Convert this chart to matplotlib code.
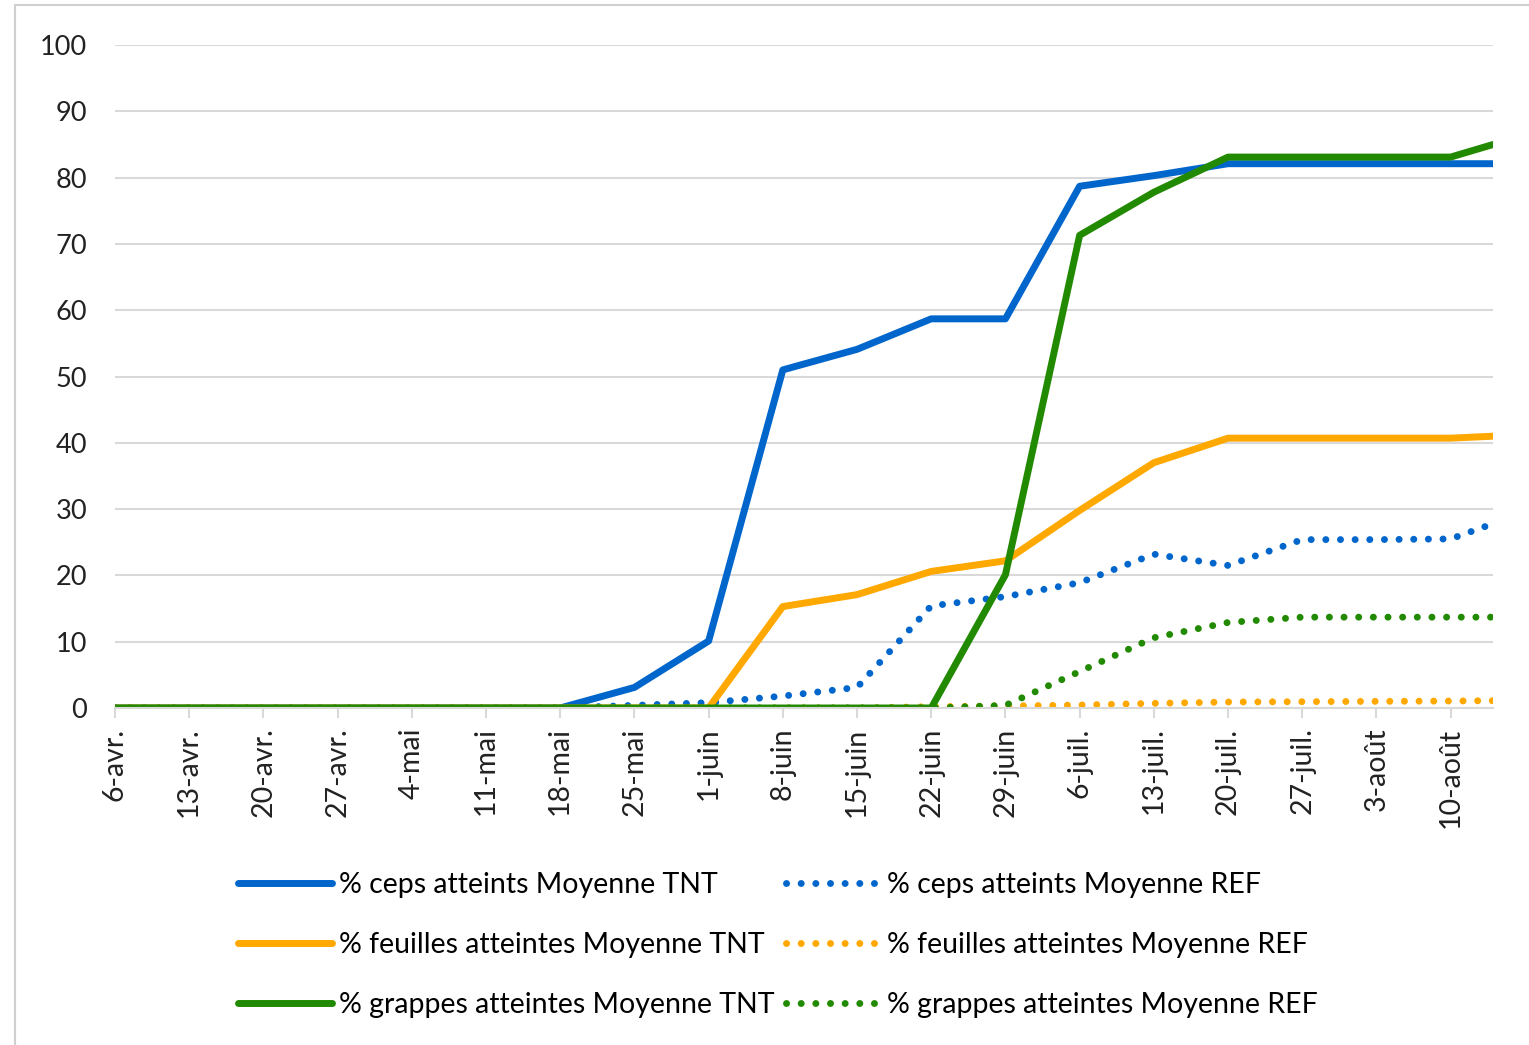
import numpy as np
import pandas as pd
import matplotlib
matplotlib.use("Agg")
import matplotlib.pyplot as plt
from matplotlib.patches import Rectangle

plt.rcParams['font.family'] = ['Lato', 'DejaVu Sans']

# weekly dates (year is arbitrary, 6 April was a Monday)
dates = pd.to_datetime(['2020-04-06', '2020-04-13', '2020-04-20', '2020-04-27', '2020-05-04',
                        '2020-05-11', '2020-05-18', '2020-05-25', '2020-06-01', '2020-06-08',
                        '2020-06-15', '2020-06-22', '2020-06-29', '2020-07-06', '2020-07-13',
                        '2020-07-20', '2020-07-27', '2020-08-03', '2020-08-10', '2020-08-14'])

tick_labels = ['6-avr.', '13-avr.', '20-avr.', '27-avr.', '4-mai', '11-mai', '18-mai', '25-mai',
               '1-juin', '8-juin', '15-juin', '22-juin', '29-juin', '6-juil.', '13-juil.',
               '20-juil.', '27-juil.', '3-août', '10-août']

ceps_tnt = [0, 0, 0, 0, 0, 0, 0, 3.1, 10.1, 51.0, 54.1, 58.7, 58.7, 78.7, 80.3, 82.1, 82.1, 82.1, 82.1, 82.1]
ceps_ref = [0, 0, 0, 0, 0, 0, 0, 0.4, 0.8, 1.8, 3.1, 15.4, 16.8, 18.9, 23.2, 21.5, 25.4, 25.4, 25.5, 27.8]
feuilles_tnt = [0, 0, 0, 0, 0, 0, 0, 0, 0, 15.3, 17.1, 20.6, 22.2, 29.8, 37.0, 40.7, 40.7, 40.7, 40.7, 41.0]
feuilles_ref = [0, 0, 0, 0, 0, 0, 0, 0, 0, 0, 0, 0.2, 0.3, 0.45, 0.7, 0.9, 0.95, 1.0, 1.05, 1.1]
grappes_tnt = [0, 0, 0, 0, 0, 0, 0, 0, 0, 0, 0, 0, 20.1, 71.3, 77.8, 83.1, 83.1, 83.1, 83.1, 85.0]
grappes_ref = [0, 0, 0, 0, 0, 0, 0, 0, 0, 0, 0, 0, 0.4, 5.5, 10.6, 12.9, 13.7, 13.7, 13.7, 13.7]

blue = '#0066cc'
orange = '#ffa800'
green = '#228a00'

fig = plt.figure(figsize=(15.29, 10.45), dpi=100)
ax = fig.add_axes([0.0752, 0.3225, 0.9013, 0.6344])

lw = 5
dot = (0, (0.01, 2.1))
l1, = ax.plot(dates, ceps_tnt, color=blue, lw=lw, solid_capstyle='round', label='% ceps atteints Moyenne TNT')
l2, = ax.plot(dates, ceps_ref, color=blue, lw=lw, ls=dot, dash_capstyle='round', label='% ceps atteints Moyenne REF')
l3, = ax.plot(dates, feuilles_tnt, color=orange, lw=lw, solid_capstyle='round', label='% feuilles atteintes Moyenne TNT')
l4, = ax.plot(dates, feuilles_ref, color=orange, lw=lw, ls=dot, dash_capstyle='round', label='% feuilles atteintes Moyenne REF')
l5, = ax.plot(dates, grappes_tnt, color=green, lw=lw, solid_capstyle='round', label='% grappes atteintes Moyenne TNT')
l6, = ax.plot(dates, grappes_ref, color=green, lw=lw, ls=dot, dash_capstyle='round', label='% grappes atteintes Moyenne REF')

ax.set_ylim(0, 100)
ax.set_yticks(np.arange(0, 101, 10))
ax.set_xlim(dates[0], dates[-1])
ax.set_xticks(dates[:-1])
ax.set_xticklabels(tick_labels, rotation=90)

ax.grid(axis='y', color='#d9d9d9', lw=1.5)
ax.set_axisbelow(True)
for s in ['top', 'right', 'left']:
    ax.spines[s].set_visible(False)
ax.spines['bottom'].set_color('#d9d9d9')
ax.spines['bottom'].set_linewidth(1.5)
ax.tick_params(axis='y', length=0, pad=20, labelsize=19.5, labelcolor='#222222')
ax.tick_params(axis='x', length=7, width=1.5, color='#d9d9d9', pad=7, labelsize=20.5, labelcolor='#222222')

fig.legend(handles=[l1, l3, l5, l2, l4, l6], ncol=2, loc='upper center',
           bbox_to_anchor=(0.509, 1 - 846 / 1045), frameon=False, fontsize=20.5,
           handlelength=3.3, handletextpad=0.25, columnspacing=0.4, labelspacing=1.2)

fig.patches.append(Rectangle((15 / 1529, -0.01), 1.0, (1045 - 5) / 1045 + 0.01,
                             transform=fig.transFigure, fill=False, edgecolor='#d0d0d0', lw=1.5))

fig.savefig('out.png', dpi=100)
